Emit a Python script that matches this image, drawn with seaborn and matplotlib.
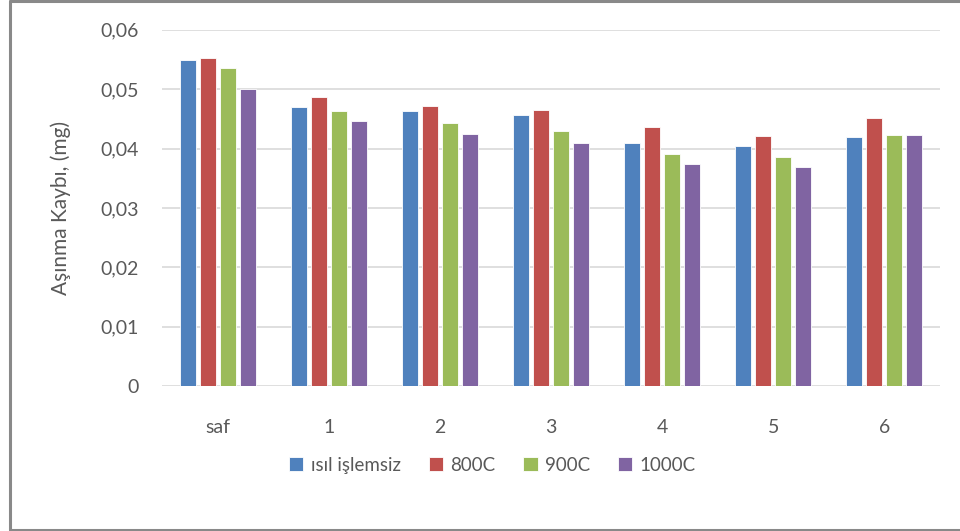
import matplotlib
matplotlib.use("Agg")
import matplotlib.pyplot as plt
import seaborn as sns
import pandas as pd
from matplotlib.lines import Line2D
from matplotlib.ticker import FixedLocator

# Wear loss per sample group and heat treatment
categories = ["saf", "1", "2", "3", "4", "5", "6"]
series_names = ["ısıl işlemsiz", "800C", "900C", "1000C"]
untreated = [0.0549, 0.0470, 0.0463, 0.0457, 0.0410, 0.0405, 0.0419]
t800 = [0.0553, 0.0486, 0.0472, 0.0464, 0.0436, 0.0421, 0.0451]
t900 = [0.0536, 0.0463, 0.0443, 0.0430, 0.0390, 0.0386, 0.0423]
t1000 = [0.0501, 0.0447, 0.0424, 0.0410, 0.0374, 0.0369, 0.0422]
y_ticks = [0, 0.01, 0.02, 0.03, 0.04, 0.05, 0.06]
y_tick_labels = ["0", "0,01", "0,02", "0,03", "0,04", "0,05", "0,06"]
y_label = "Aşınma Kaybı, (mg)"
colors = ["#4F81BD", "#C0504D", "#9BBB59", "#8064A2"]

rows = []
for name, vals in zip(series_names, [untreated, t800, t900, t1000]):
    for cat, v in zip(categories, vals):
        rows.append({"grup": cat, "seri": name, "deger": v})
df = pd.DataFrame(rows)

sns.set_theme(style="white")
plt.rcParams["font.family"] = ["Lato", "DejaVu Sans"]
text_color = "#595959"

fig = plt.figure(figsize=(9.6, 5.31), dpi=100)
ax = fig.add_axes([0.169, 0.273, 0.810, 0.671])

sns.barplot(data=df, x="grup", y="deger", hue="seri", order=categories,
            hue_order=series_names, palette=colors, width=0.72, gap=0.2,
            saturation=1, ax=ax, legend=True, edgecolor="white", linewidth=0.6)

ax.set_ylim(0, 0.06)
ax.yaxis.set_major_locator(FixedLocator(y_ticks))
ax.set_yticklabels(y_tick_labels)
ax.set_xlim(-0.5, len(categories) - 0.5)
ax.yaxis.grid(True, color="#D9D9D9", linewidth=1.2)
ax.set_axisbelow(True)
for s in ax.spines.values():
    s.set_visible(False)
ax.tick_params(axis="both", length=0, colors=text_color, labelsize=14)
ax.tick_params(axis="y", pad=17)
ax.tick_params(axis="x", pad=24)
ax.set_xlabel("")
ax.set_ylabel(y_label, color=text_color, fontsize=15)
ax.yaxis.set_label_coords(-0.117, 0.5)

handles, labels = ax.get_legend_handles_labels()
ax.legend_.remove()
fig.legend(handles, labels, loc="center", bbox_to_anchor=(0.513, 0.124), ncol=4,
           frameon=False, fontsize=13.5, handlelength=0.75, handleheight=0.75,
           handletextpad=0.4, columnspacing=1.5, labelcolor=text_color)

# chart frame: left, top and bottom edges
frame_kw = dict(transform=fig.transFigure, color="#898989", linewidth=2.2)
x0, y0, y1 = 9.5 / 960, 1 - 530 / 531, 1 - 1 / 531
fig.add_artist(Line2D([x0, x0], [y0, y1], **frame_kw))
fig.add_artist(Line2D([x0, 1.0], [y1, y1], **frame_kw))
fig.add_artist(Line2D([x0, 1.0], [y0, y0], **frame_kw))

fig.savefig("out.png", dpi=100)
